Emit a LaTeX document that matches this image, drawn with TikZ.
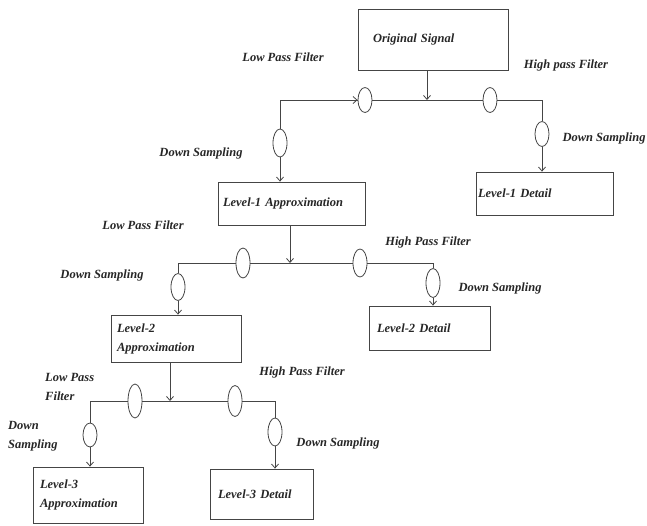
\documentclass[tikz,border=0pt]{standalone}
\usepackage{fontspec}
\setmainfont{Liberation Serif}
\usetikzlibrary{shapes.geometric,arrows.meta}
\definecolor{linec}{HTML}{454545}
\definecolor{txtc}{HTML}{262626}
\begin{document}
\begin{tikzpicture}[x=1pt,y=-1pt,
  font=\fontsize{12.5}{19}\selectfont\bfseries\itshape,
  box/.style={draw=linec, line width=0.8pt, rectangle, align=left, inner ysep=0pt, text=txtc},
  filt/.style={draw=linec, line width=0.8pt, ellipse, minimum width=14pt, minimum height=27pt, inner sep=0pt},
  lbl/.style={inner sep=0pt, text=txtc},
  wire/.style={draw=linec, line width=0.8pt},
  arr/.style={wire, -{Straight Barb[length=4pt,width=7pt]}},
]
\useasboundingbox (0,0) rectangle (647,525);

% boxes
\node[box, minimum height=61pt, text width=120pt, inner xsep=15pt] (orig) at (433,39.5) {Original Signal};
\node[box, minimum height=43pt, text width=137pt, inner xsep=5pt] (l1a) at (291.5,203.5) {Level-1 Approximation};
\node[box, minimum height=43pt, text width=133pt, inner xsep=2pt] (l1d) at (544.5,193.5) {Level-1 Detail};
\node[box, minimum height=47pt, text width=118pt, inner xsep=6pt] (l2a) at (176,338.5) {Level-2\\Approximation};
\node[box, minimum height=44pt, text width=105pt, inner xsep=8pt] (l2d) at (429.5,328) {Level-2 Detail};
\node[box, minimum height=56pt, text width=96pt, inner xsep=7pt] (l3a) at (88,495) {Level-3\\Approximation};
\node[box, minimum height=50pt, text width=87pt, inner xsep=8pt] (l3d) at (261.5,494) {Level-3 Detail};

% filters
\node[filt, minimum height=25pt] (lp1) at (365,100) {};
\node[filt, minimum height=25pt] (hp1) at (490,100) {};
\node[filt, minimum height=28pt] (ds1l) at (280,143) {};
\node[filt, minimum height=25pt] (ds1r) at (542,134) {};
\node[filt, minimum height=30pt] (lp2) at (243,263) {};
\node[filt, minimum height=28pt] (hp2) at (360,263) {};
\node[filt, minimum height=27pt] (ds2l) at (178,287) {};
\node[filt, minimum height=29pt] (ds2r) at (433,283) {};
\node[filt, minimum height=34pt] (lp3) at (135,401) {};
\node[filt, minimum height=31pt] (hp3) at (235,401) {};
\node[filt, minimum height=24pt] (ds3l) at (90,435) {};
\node[filt, minimum height=28pt] (ds3r) at (275,432) {};

% labels
\node[lbl] (t1) at (283,57) {Low Pass Filter};
\node[lbl] (t2) at (566,65) {High pass Filter};
\node[lbl] (t3) at (201,153) {Down Sampling};
\node[lbl] (t4) at (604,138) {Down Sampling};
\node[lbl] (t5) at (143,225) {Low Pass Filter};
\node[lbl] (t6) at (102,275) {Down Sampling};
\node[lbl] (t7) at (428,242) {High Pass Filter};
\node[lbl] (t8) at (500,288) {Down Sampling};
\node[lbl, anchor=west, align=left] (t9) at (45,386.5) {Low Pass\\Filter};
\node[lbl] (t10) at (302,372) {High Pass Filter};
\node[lbl, anchor=west, align=left] (t11) at (8,436) {Down\\Sampling};
\node[lbl] (t12) at (338,443) {Down Sampling};

% junctions and corners
\coordinate (j1) at (427,100);
\coordinate (c1l) at (280,100);
\coordinate (c1r) at (542,100);
\coordinate (j2) at (290,263);
\coordinate (c2l) at (178,263);
\coordinate (c2r) at (433,263);
\coordinate (j3) at (170,401);
\coordinate (c3l) at (90,401);
\coordinate (c3r) at (275,401);

% level 1
\draw[arr] (orig.south -| j1) -- (j1);
\draw[wire] (j1) -- (lp1.east);
\draw[wire] (lp1.west) -- (c1l) -- (ds1l.north);
\draw[arr] (c1l) ++(64,0) coordinate (a1) -- (lp1.west);
\draw[arr] (ds1l.south) -- (ds1l.south |- l1a.north);
\draw[wire] (j1) -- (hp1.west);
\draw[wire] (hp1.east) -- (c1r) -- (ds1r.north);
\draw[arr] (ds1r.south) -- (ds1r.south |- l1d.north);

% level 2
\draw[arr] (l1a.south -| j2) -- (j2);
\draw[wire] (j2) -- (lp2.east);
\draw[wire] (lp2.west) -- (c2l) -- (ds2l.north);
\draw[arr] (ds2l.south) -- (ds2l.south |- l2a.north);
\draw[wire] (j2) -- (hp2.west);
\draw[wire] (hp2.east) -- (c2r) -- (ds2r.north);
\draw[arr] (ds2r.south) -- (ds2r.south |- l2d.north);

% level 3
\draw[arr] (l2a.south -| j3) -- (j3);
\draw[wire] (j3) -- (lp3.east);
\draw[wire] (lp3.west) -- (c3l) -- (ds3l.north);
\draw[arr] (ds3l.south) -- (ds3l.south |- l3a.north);
\draw[wire] (j3) -- (hp3.west);
\draw[wire] (hp3.east) -- (c3r) -- (ds3r.north);
\draw[arr] (ds3r.south) -- (ds3r.south |- l3d.north);
\end{tikzpicture}
\end{document}
